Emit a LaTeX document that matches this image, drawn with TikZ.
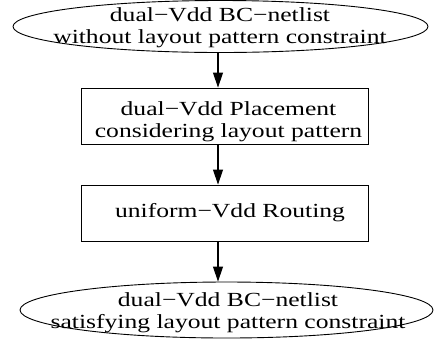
\documentclass[tikz,border=0pt]{standalone}
\usepackage{fontspec}
\setmainfont{Liberation Serif}[FakeStretch=1.28]
\usetikzlibrary{shapes.geometric,arrows.meta}
\begin{document}
\begin{tikzpicture}[x=1pt,y=-1pt,
  flowline/.style={line width=1.1pt,-{Triangle[length=15pt,width=10pt]}},
  oval/.style={draw,line width=0.9pt,ellipse,inner sep=0pt},
  stepbox/.style={draw,line width=0.9pt,rectangle,inner sep=0pt,minimum width=287pt,minimum height=56pt},
  caption/.style={font=\fontsize{20}{22}\selectfont,align=center,inner sep=0pt}]
\useasboundingbox (0,0) rectangle (435,341);
% input netlist
\node[oval,minimum width=415pt,minimum height=52pt] (top) at (220.5,26.5) {};
\node[caption] (toptext) at (220,28) {dual−Vdd BC−netlist\\without layout pattern constraint};
% placement and routing steps
\node[stepbox] (place) at (224.5,116) {};
\node[caption] (placetext) at (228.5,122) {dual−Vdd Placement\\considering layout pattern};
\node[stepbox] (route) at (224.5,213) {};
\node[caption] (routetext) at (230,213) {uniform−Vdd Routing};
% output netlist
\node[oval,minimum width=413pt,minimum height=56pt] (bot) at (226.5,310) {};
\node[caption] (bottext) at (228,313) {dual−Vdd BC−netlist\\satisfying layout pattern constraint};
% connectors
\coordinate (ax) at (218,0);
\draw[flowline] (top.south -| ax) -- (place.north -| ax);
\draw[flowline] (place.south -| ax) -- (route.north -| ax);
\draw[flowline] (route.south -| ax) -- (bot.north -| ax);
\end{tikzpicture}
\end{document}
